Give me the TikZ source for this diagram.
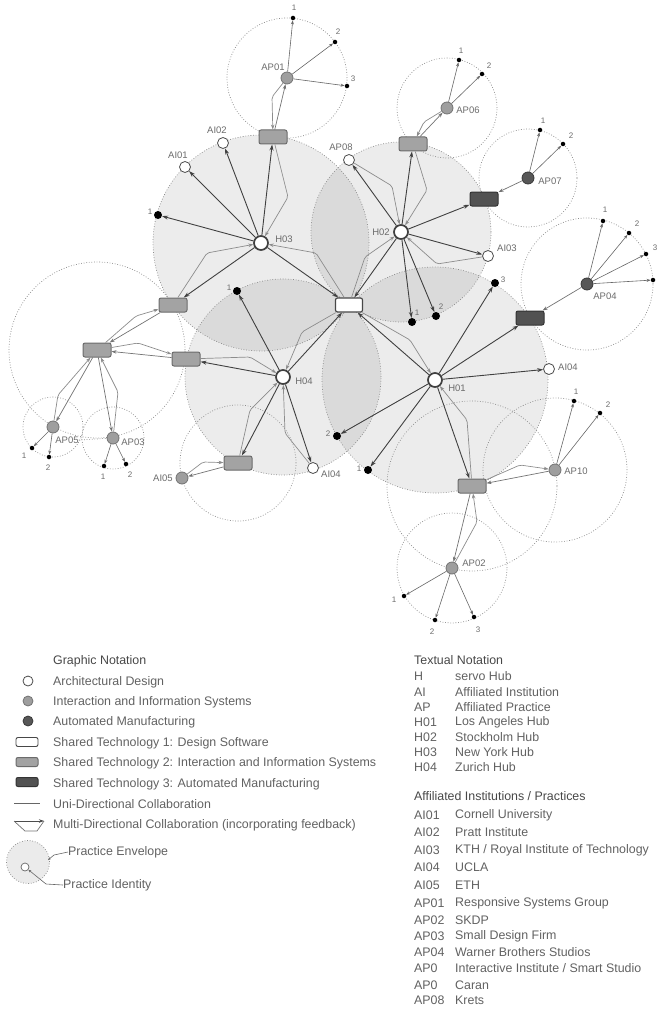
\documentclass[tikz,border=0pt]{standalone}
\usepackage{fontspec}
\setmainfont{Liberation Sans}
\usetikzlibrary{arrows.meta,backgrounds}
\begin{document}
\begin{tikzpicture}[x=1pt,y=-1pt,
  shub/.style={circle,draw=black!75,line width=1.7pt,fill=white,minimum size=14pt,inner sep=0pt},
  sarch/.style={circle,draw=black!70,line width=0.8pt,fill=white,minimum size=11pt,inner sep=0pt},
  sinter/.style={circle,draw=black!55,line width=0.8pt,fill=black!38,minimum size=12pt,inner sep=0pt},
  sautom/.style={circle,draw=black!78,line width=0.8pt,fill=black!66,minimum size=12pt,inner sep=0pt},
  sbig/.style={circle,fill=black,minimum size=8pt,inner sep=0pt},
  ssmall/.style={circle,fill=black,minimum size=4.5pt,inner sep=0pt},
  sst1/.style={rectangle,rounded corners=2pt,draw=black!72,line width=1.2pt,fill=white,minimum width=27pt,minimum height=14pt,inner sep=0pt},
  sst2/.style={rectangle,rounded corners=2pt,draw=black!58,line width=1pt,fill=black!36,minimum width=28pt,minimum height=14pt,inner sep=0pt},
  sst3/.style={rectangle,rounded corners=2pt,draw=black!80,line width=1pt,fill=black!68,minimum width=28pt,minimum height=14pt,inner sep=0pt},
  suni/.style={draw=black!75,line width=0.9pt,-{Stealth[length=6pt,width=4pt]}},
  slink/.style={draw=black!55,line width=0.7pt,-{Stealth[length=5pt,width=3.5pt]}},
  sfb/.style={draw=black!45,line width=0.7pt,rounded corners=2pt,-{Stealth[length=5pt,width=3.5pt]}},
  sptl/.style={draw=black!60,line width=0.6pt,-{Stealth[length=4pt,width=3pt]}},
  senv/.style={draw=black!45,line width=0.7pt,dash pattern=on 0.8pt off 1.8pt},
  slbl/.style={text=black!58,font=\fontsize{9.5}{10}\selectfont,inner sep=0pt},
  snum/.style={text=black!58,font=\fontsize{8}{9}\selectfont,inner sep=0pt},
  sleg/.style={text=black!62,font=\fontsize{12.4}{13}\selectfont,anchor=west,inner sep=0pt},
  shead/.style={text=black!72,font=\fontsize{12.4}{13}\selectfont,anchor=west,inner sep=0pt}
]
\useasboundingbox (0,0) rectangle (659,1011);

% ---------------- nodes ----------------
\node[shub] (H03) at (261,243) {};
\node[shub] (H02) at (401,232) {};
\node[shub] (H04) at (283,377) {};
\node[shub] (H01) at (435,380) {};
\node[sst1] (ST1) at (349,305) {};

% H03 group
\node[sst2] (st2a) at (273,137) {};
\node[sinter] (ap01) at (287,78) {};
\node[ssmall] (ap01p1) at (293,18) {};
\node[ssmall] (ap01p2) at (335,42) {};
\node[ssmall] (ap01p3) at (347,86) {};
\node[sarch] (ai02) at (223,143) {};
\node[sarch] (ai01) at (185,167) {};
\node[sbig] (h03p1) at (158,215) {};
\node[sst2] (st2b) at (173,305) {};

% H02 group
\node[sst2] (st2c) at (413,144) {};
\node[sinter] (ap06) at (447,108) {};
\node[ssmall] (ap06p1) at (459,60) {};
\node[ssmall] (ap06p2) at (482,74) {};
\node[sarch] (ap08) at (349,160) {};
\node[sst3] (st3a) at (484,199) {};
\node[sautom] (ap07) at (528,178) {};
\node[ssmall] (ap07p1) at (540,130) {};
\node[ssmall] (ap07p2) at (563,144) {};
\node[sarch] (ai03) at (488,256) {};
\node[sbig] (h02p1) at (412,322) {};
\node[sbig] (h02p2) at (436,316) {};

% H04 group
\node[sbig] (h04p1) at (237,291) {};
\node[sst2] (st2d) at (186,359) {};
\node[sst2] (st2e) at (97,350) {};
\node[sinter] (ap05) at (53,427) {};
\node[ssmall] (ap05p1) at (32,448) {};
\node[ssmall] (ap05p2) at (49,457) {};
\node[sinter] (ap03) at (113,438) {};
\node[ssmall] (ap03p1) at (104,466) {};
\node[ssmall] (ap03p2) at (126,464) {};
\node[sst2] (st2f) at (238,463) {};
\node[sinter] (ai05) at (182,478) {};
\node[sarch] (ai04a) at (313,468) {};

% H01 group
\node[sbig] (h01p3) at (495,283) {};
\node[sst3] (st3b) at (530,318) {};
\node[sautom] (ap04) at (587,284) {};
\node[ssmall] (ap04p1) at (603,221) {};
\node[ssmall] (ap04p2) at (629,233) {};
\node[ssmall] (ap04p3) at (646,254) {};
\node[ssmall] (ap04p4) at (653,280) {};
\node[sarch] (ai04b) at (549,369) {};
\node[sst2] (st2g) at (472,486) {};
\node[sinter] (ap10) at (555,470) {};
\node[ssmall] (ap10p1) at (574,401) {};
\node[ssmall] (ap10p2) at (600,413) {};
\node[sinter] (ap02) at (452,568) {};
\node[ssmall] (ap02p1) at (404,596) {};
\node[ssmall] (ap02p2) at (435,620) {};
\node[ssmall] (ap02p3) at (474,617) {};
\node[sbig] (h01p2) at (337,436) {};
\node[sbig] (h01p1) at (368,470) {};

% ---------------- envelopes ----------------
\begin{pgfonlayer}{background}
\fill[black,fill opacity=0.075] (H03.center) circle[radius=108pt];
\fill[black,fill opacity=0.075] (H02.center) circle[radius=90pt];
\fill[black,fill opacity=0.075] (H04.center) circle[radius=98pt];
\fill[black,fill opacity=0.075] (H01.center) circle[radius=113pt];
\draw[senv] (H03.center) circle[radius=108pt];
\draw[senv] (H02.center) circle[radius=90pt];
\draw[senv] (H04.center) circle[radius=98pt];
\draw[senv] (H01.center) circle[radius=113pt];
\draw[senv] (ap01.center) circle[radius=60pt];
\draw[senv] (ap06.center) circle[radius=50pt];
\draw[senv] (ap07.center) circle[radius=49pt];
\draw[senv] (ap04.center) circle[radius=66pt];
\draw[senv] (ap10.center) circle[radius=72pt];
\draw[senv] (st2g.center) circle[radius=85pt];
\draw[senv] (ap02.center) circle[radius=55pt];
\draw[senv] (st2e.center) circle[radius=88pt];
\draw[senv] (ap05.center) circle[radius=30pt];
\draw[senv] (ap03.center) circle[radius=31pt];
\draw[senv] (st2f.center) circle[radius=58pt];
\end{pgfonlayer}

% ---------------- connectors ----------------
% H03
\draw[suni] (H03) -- (st2a);
\draw[sfb] (st2a) -- (288,197) -- (H03);
\draw[suni] (H03) -- (ai02);
\draw[suni] (H03) -- (ai01);
\draw[suni] (H03) -- (h03p1);
\draw[suni] (H03) -- (ST1);
\draw[sfb] (ST1) -- (316,253) -- (H03);
\draw[suni] (H03) -- (st2b);
\draw[sfb] (st2b) -- (207,253) -- (H03);
% AP01
\draw[slink] (st2a) -- (ap01);
\draw[sfb] (ap01) -- (272,97) -- (st2a);
\draw[sptl] (ap01) -- (ap01p1);
\draw[sptl] (ap01) -- (ap01p2);
\draw[sptl] (ap01) -- (ap01p3);
% H02
\draw[suni] (H02) -- (st2c);
\draw[sfb] (st2c) -- (427,190) -- (H02);
\draw[suni] (H02) -- (ap08);
\draw[sfb] (ap08) -- (392,186) -- (H02);
\draw[suni] (H02) -- (st3a);
\draw[suni] (H02) -- (ai03);
\draw[sfb] (ai03) -- (437,264) -- (H02);
\draw[suni] (H02) -- (h02p1);
\draw[suni] (H02) -- (h02p2);
\draw[suni] (H02) -- (ST1);
\draw[sfb] (ST1) -- (365,257) -- (H02);
% AP06, AP07
\draw[slink] (st2c) -- (ap06);
\draw[sfb] (ap06) -- (424,122) -- (st2c);
\draw[sptl] (ap06) -- (ap06p1);
\draw[sptl] (ap06) -- (ap06p2);
\draw[slink] (ap07) -- (st3a);
\draw[sptl] (ap07) -- (ap07p1);
\draw[sptl] (ap07) -- (ap07p2);
% H04
\draw[suni] (H04) -- (h04p1);
\draw[suni] (H04) -- (ST1);
\draw[sfb] (ST1) -- (302,332) -- (H04);
\draw[suni] (H04) -- (st2d);
\draw[sfb] (st2d) -- (250,357) -- (H04);
\draw[suni] (H04) -- (st2f);
\draw[sfb] (st2f) -- (250,410) -- (H04);
\draw[suni] (H04) -- (ai04a);
\draw[sfb] (ai04a) -- (285,433) -- (H04);
% left chain
\draw[slink] (st2d) -- (st2e);
\draw[sfb] (st2e) -- (138,343) -- (st2d);
\draw[slink] (st2b) -- (st2e);
\draw[sfb] (st2e) -- (136,316) -- (st2b);
\draw[slink] (st2e) -- (ap05);
\draw[sfb] (ap05) -- (58,395) -- (st2e);
\draw[slink] (st2e) -- (ap03);
\draw[sfb] (ap03) -- (118,392) -- (st2e);
\draw[sptl] (ap05) -- (ap05p1);
\draw[sptl] (ap05) -- (ap05p2);
\draw[sptl] (ap03) -- (ap03p1);
\draw[sptl] (ap03) -- (ap03p2);
\draw[slink] (st2f) -- (ai05);
\draw[sfb] (ai05) -- (203,462) -- (st2f);
% H01
\draw[suni] (H01) -- (ST1);
\draw[sfb] (ST1) -- (410,340) -- (H01);
\draw[suni] (H01) -- (h01p3);
\draw[suni] (H01) -- (st3b);
\draw[suni] (H01) -- (ai04b);
\draw[suni] (H01) -- (st2g);
\draw[sfb] (st2g) -- (467,420) -- (H01);
\draw[suni] (H01) -- (h01p2);
\draw[suni] (H01) -- (h01p1);
% AP04, AP10, AP02
\draw[slink] (ap04) -- (st3b);
\draw[sptl] (ap04) -- (ap04p1);
\draw[sptl] (ap04) -- (ap04p2);
\draw[sptl] (ap04) -- (ap04p3);
\draw[sptl] (ap04) -- (ap04p4);
\draw[slink] (ap10) -- (st2g);
\draw[sfb] (st2g) -- (520,465) -- (ap10);
\draw[sptl] (ap10) -- (ap10p1);
\draw[sptl] (ap10) -- (ap10p2);
\draw[slink] (st2g) -- (ap02);
\draw[sfb] (ap02) -- (477,522) -- (st2g);
\draw[sptl] (ap02) -- (ap02p1);
\draw[sptl] (ap02) -- (ap02p2);
\draw[sptl] (ap02) -- (ap02p3);

% ---------------- labels ----------------
\node[slbl] (lH03) at (284,239) {H03};
\node[slbl] (lH02) at (381,232) {H02};
\node[slbl] (lH04) at (304,381) {H04};
\node[slbl] (lH01) at (457,388) {H01};
\node[slbl] (lap01) at (273,67) {AP01};
\node[slbl] (lai02) at (217,130) {AI02};
\node[slbl] (lai01) at (178,155) {AI01};
\node[slbl] (lap08) at (341,147) {AP08};
\node[slbl] (lap06) at (468,110) {AP06};
\node[slbl] (lap07) at (550,181) {AP07};
\node[slbl] (lai03) at (507,248) {AI03};
\node[slbl] (lap04) at (605,296) {AP04};
\node[slbl] (lai04b) at (568,367) {AI04};
\node[slbl] (lai04a) at (331,474) {AI04};
\node[slbl] (lap10) at (576,471) {AP10};
\node[slbl] (lap02) at (474,563) {AP02};
\node[slbl] (lai05) at (163,478) {AI05};
\node[slbl] (lap05) at (67,440) {AP05};
\node[slbl] (lap03) at (133,442) {AP03};
\draw[senv] (lap05.east) -- (ap03);

\node[snum] (n1) at (150,212) {1};
\node[snum] (n2) at (229,288) {1};
\node[snum] (n3) at (417,313) {1};
\node[snum] (n4) at (441,307) {2};
\node[snum] (n5) at (503,280) {3};
\node[snum] (n6) at (328,434) {2};
\node[snum] (n7) at (359,469) {1};
\node[snum] (n8) at (294,8) {1};
\node[snum] (n9) at (338,32) {2};
\node[snum] (n10) at (353,79) {3};
\node[snum] (n11) at (461,51) {1};
\node[snum] (n12) at (489,66) {2};
\node[snum] (n13) at (543,121) {1};
\node[snum] (n14) at (571,136) {2};
\node[snum] (n15) at (605,210) {1};
\node[snum] (n16) at (637,224) {2};
\node[snum] (n17) at (655,248) {3};
\node[snum] (n18) at (576,392) {1};
\node[snum] (n19) at (608,405) {2};
\node[snum] (n20) at (394,600) {1};
\node[snum] (n21) at (432,632) {2};
\node[snum] (n22) at (478,630) {3};
\node[snum] (n23) at (24,456) {1};
\node[snum] (n24) at (48,468) {2};
\node[snum] (n25) at (103,477) {1};
\node[snum] (n26) at (130,475) {2};

% ---------------- legend (left) ----------------
\node[shead] (g0) at (53,661) {Graphic Notation};
\node[sarch,minimum size=10pt] (k1) at (28,681) {};
\node[sleg] (g1) at (53,682) {Architectural Design};
\node[sinter,minimum size=10pt] (k2) at (28,701) {};
\node[sleg] (g2) at (53,702) {Interaction and Information Systems};
\node[sautom,minimum size=10pt] (k3) at (28,721) {};
\node[sleg] (g3) at (53,722) {Automated Manufacturing};
\node[sst1,minimum width=22pt,minimum height=9pt,line width=0.9pt] (k4) at (27,742) {};
\node[sleg] (g4) at (53,743) {Shared Technology 1: Design Software};
\node[sst2,minimum width=22pt,minimum height=9pt] (k5) at (27,762) {};
\node[sleg] (g5) at (53,763) {Shared Technology 2: Interaction and Information Systems};
\node[sst3,minimum width=22pt,minimum height=9pt] (k6) at (27,782) {};
\node[sleg] (g6) at (53,784) {Shared Technology 3: Automated Manufacturing};
\coordinate (k7a) at (14,803);
\coordinate (k7b) at (40,803);
\draw[draw=black!60,line width=0.8pt] (k7a) -- (k7b);
\node[sleg] (g7) at (53,804) {Uni-Directional Collaboration};
\coordinate (k8a) at (14,821);
\coordinate (k8b) at (44,821);
\draw[draw=black!70,line width=0.8pt,-{Stealth[length=5pt,width=3.5pt]}] (k8a) -- (k8b);
\draw[draw=black!55,line width=0.7pt] (k8a) -- (25,831) -- (37,831) -- (k8b);
\node[sleg] (g8) at (53,825) {Multi-Directional Collaboration (incorporating feedback)};
\node[circle,fill=black!8,senv,minimum size=43pt,inner sep=0pt] (k9) at (28,862) {};
\node[circle,draw=black!60,line width=0.7pt,fill=white,minimum size=8pt,inner sep=0pt] (k10) at (25,867) {};
\node[sleg] (g9) at (68,852) {Practice Envelope};
\node[sleg] (g10) at (63,885) {Practice Identity};
\draw[draw=black!60,line width=0.6pt,-{Stealth[length=3pt,width=2.5pt]}] (g9.west) -- (54,855) -- (48,860);
\draw[draw=black!60,line width=0.6pt,-{Stealth[length=3pt,width=2.5pt]}] (g10.west) -- (46,884) -- (k10);

% ---------------- legend (right) ----------------
\node[shead] (t0) at (414,660) {Textual Notation};
\foreach \a/\b/\y [count=\i] in {H/{servo Hub}/676, AI/{Affiliated Institution}/692, AP/{Affiliated Practice}/707, H01/{Los Angeles Hub}/722, H02/{Stockholm Hub}/737, H03/{New York Hub}/752, H04/{Zurich Hub}/767}{
  \node[sleg] (ta\i) at (414,\y) {\a};
  \node[sleg] (tb\i) at (455,\y) {\b};
}
\node[shead] (u0) at (414,796) {Affiliated Institutions / Practices};
\foreach \a/\b/\y [count=\i] in {AI01/{Cornell University}/815, AI02/{Pratt Institute}/832, AI03/{KTH / Royal Institute of Technology}/850, AI04/{UCLA}/867, AI05/{ETH}/885, AP01/{Responsive Systems Group}/903, AP02/{SKDP}/920, AP03/{Small Design Firm}/936, AP04/{Warner Brothers Studios}/952, AP0/{Interactive Institute / Smart Studio}/968, AP0/{Caran}/985, AP08/{Krets}/1000}{
  \node[sleg] (ua\i) at (414,\y) {\a};
  \node[sleg] (ub\i) at (455,\y) {\b};
}
\end{tikzpicture}
\end{document}
